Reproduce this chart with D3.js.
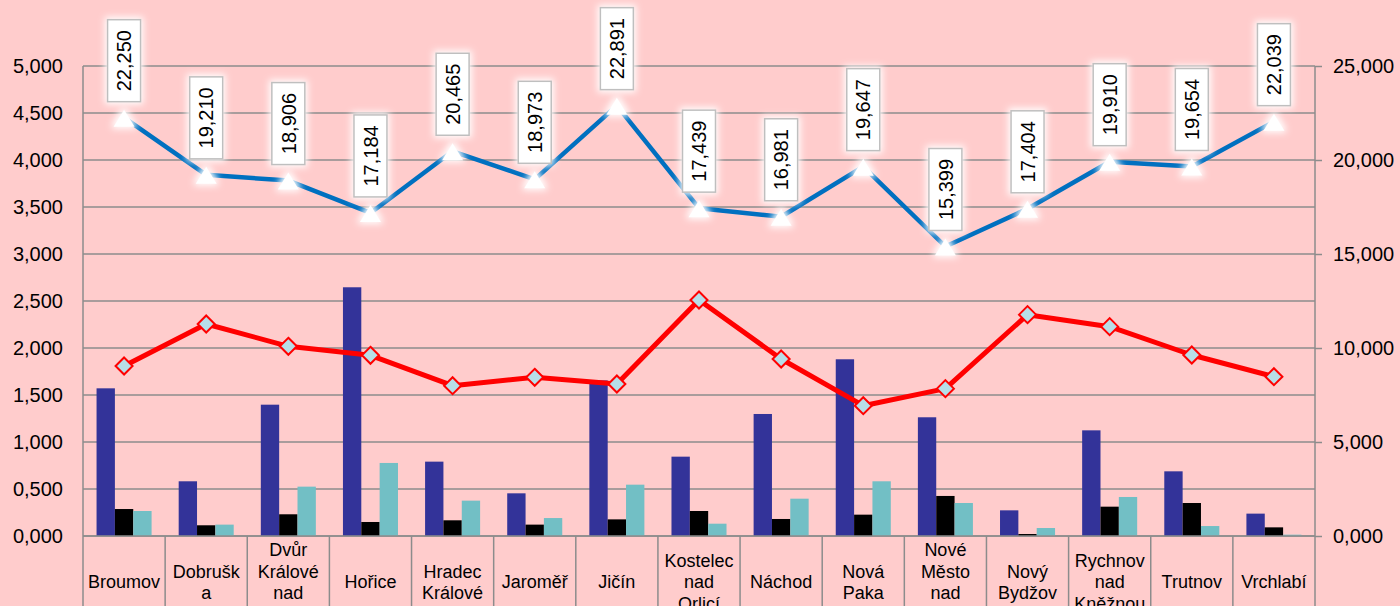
<!DOCTYPE html>
<html>
<head>
<meta charset="utf-8">
<script src="https://cdn.jsdelivr.net/npm/d3@7"></script>
<style>
  html, body { margin: 0; padding: 0; background: #FFCCCC; }
  svg { display: block; font-family: "Liberation Sans", Arial, sans-serif; }
</style>
</head>
<body>
<div id="chart"></div>
<script>
var svgWidth = 1400;
var svgHeight = 606;

var margin = { top: 66, right: 85, bottom: 70, left: 83 };
var width = svgWidth - margin.left - margin.right;
var height = svgHeight - margin.top - margin.bottom;

// data
var categories = ["Broumov", "Dobruška", "Dvůr Králové nad Labem", "Hořice", "Hradec Králové",
  "Jaroměř", "Jičín", "Kostelec nad Orlicí", "Náchod", "Nová Paka",
  "Nové Město nad Metují", "Nový Bydžov", "Rychnov nad Kněžnou", "Trutnov", "Vrchlabí"];
var categoryLines = [["Broumov"], ["Dobrušk", "a"], ["Dvůr", "Králové", "nad", "Labem"], ["Hořice"],
  ["Hradec", "Králové"], ["Jaroměř"], ["Jičín"], ["Kostelec", "nad", "Orlicí"], ["Náchod"],
  ["Nová", "Paka"], ["Nové", "Město", "nad", "Metují"], ["Nový", "Bydžov"],
  ["Rychnov", "nad", "Kněžnou"], ["Trutnov"], ["Vrchlabí"]];

var barBlue = [1.571, 0.582, 1.397, 2.646, 0.791, 0.454, 1.655, 0.844, 1.298, 1.880, 1.263, 0.273, 1.124, 0.688, 0.238];
var barBlack = [0.287, 0.114, 0.231, 0.149, 0.167, 0.121, 0.177, 0.266, 0.181, 0.227, 0.426, 0.021, 0.312, 0.351, 0.092];
var barTeal = [0.266, 0.121, 0.525, 0.777, 0.376, 0.191, 0.546, 0.131, 0.397, 0.582, 0.351, 0.085, 0.415, 0.106, 0.014];

var redLine = [9043, 11277, 10090, 9610, 7995, 8440, 8085, 12553, 9415, 6931, 7837, 11773, 11135, 9628, 8475];
var blueLine = [22250, 19210, 18906, 17184, 20465, 18973, 22891, 17439, 16981, 19647, 15399, 17404, 19910, 19654, 22039];

var leftTicks = [0, 0.5, 1, 1.5, 2, 2.5, 3, 3.5, 4, 4.5, 5];
var leftTickLabels = ["0,000", "0,500", "1,000", "1,500", "2,000", "2,500", "3,000", "3,500", "4,000", "4,500", "5,000"];
var rightTicks = [0, 5000, 10000, 15000, 20000, 25000];
var rightTickLabels = ["0,000", "5,000", "10,000", "15,000", "20,000", "25,000"];

var barColors = ["#333399", "#000000", "#72BFC5"];
var gridColor = "#8C8C8C";

var svg = d3.select("#chart")
    .append("svg")
    .attr("width", svgWidth)
    .attr("height", svgHeight);

var defs = svg.append("defs");
var glow = defs.append("filter")
    .attr("id", "glow")
    .attr("x", "-60%").attr("y", "-60%")
    .attr("width", "220%").attr("height", "220%");
glow.append("feMorphology").attr("in", "SourceAlpha").attr("operator", "dilate").attr("radius", 2).attr("result", "dil");
glow.append("feFlood").attr("flood-color", "#ffffff").attr("result", "white");
glow.append("feComposite").attr("in", "white").attr("in2", "dil").attr("operator", "in").attr("result", "wd");
glow.append("feGaussianBlur").attr("in", "wd").attr("stdDeviation", 3.5).attr("result", "blur");
var merge = glow.append("feMerge");
merge.append("feMergeNode").attr("in", "blur");
merge.append("feMergeNode").attr("in", "SourceGraphic");

var chartGroup = svg.append("g")
    .attr("transform", `translate(${margin.left}, ${margin.top})`);

var xScale = d3.scaleBand()
    .domain(categories)
    .range([0, width]);

var yLeft = d3.scaleLinear().domain([0, 5]).range([height, 0]);
var yRight = d3.scaleLinear().domain([0, 25000]).range([height, 0]);

var groupWidth = xScale.bandwidth() * 0.67;
var xSub = d3.scaleBand()
    .domain([0, 1, 2])
    .range([0, groupWidth]);

// gridlines
chartGroup.append("g")
    .selectAll("line")
    .data(leftTicks)
    .enter()
    .append("line")
    .attr("x1", 0)
    .attr("x2", width)
    .attr("y1", d => yLeft(d))
    .attr("y2", d => yLeft(d))
    .attr("stroke", gridColor)
    .attr("stroke-width", 1.5);

// bars
var barSeries = [barBlue, barBlack, barTeal];
barSeries.forEach(function(series, si) {
    chartGroup.append("g")
        .selectAll("rect")
        .data(series)
        .enter()
        .append("rect")
        .attr("x", (d, i) => xScale(categories[i]) + (xScale.bandwidth() - groupWidth) / 2 + xSub(si))
        .attr("width", xSub.bandwidth())
        .attr("y", d => yLeft(d))
        .attr("height", d => height - yLeft(d))
        .attr("fill", barColors[si]);
});

// axis lines
chartGroup.append("line")
    .attr("x1", 0).attr("x2", width)
    .attr("y1", height).attr("y2", height)
    .attr("stroke", gridColor).attr("stroke-width", 1.5);
chartGroup.append("line")
    .attr("x1", 0).attr("x2", 0)
    .attr("y1", 0).attr("y2", svgHeight - margin.top)
    .attr("stroke", gridColor).attr("stroke-width", 1.5);
chartGroup.append("line")
    .attr("x1", width).attr("x2", width)
    .attr("y1", 0).attr("y2", svgHeight - margin.top)
    .attr("stroke", gridColor).attr("stroke-width", 1.5);

// category separators
chartGroup.append("g")
    .selectAll("line")
    .data(categories.slice(1))
    .enter()
    .append("line")
    .attr("x1", d => xScale(d))
    .attr("x2", d => xScale(d))
    .attr("y1", height)
    .attr("y2", svgHeight - margin.top)
    .attr("stroke", gridColor)
    .attr("stroke-width", 1.5);

// left axis
var leftAxis = d3.axisLeft(yLeft)
    .tickValues(leftTicks)
    .tickSize(0)
    .tickPadding(20)
    .tickFormat((d, i) => leftTickLabels[i]);
var gLeft = chartGroup.append("g").call(leftAxis);
gLeft.select(".domain").remove();
gLeft.selectAll("text")
    .attr("font-size", "20px")
    .attr("font-family", "Liberation Sans, Arial, sans-serif")
    .attr("fill", "#000");

// right axis
var rightAxis = d3.axisRight(yRight)
    .tickValues(rightTicks)
    .tickSize(7)
    .tickPadding(11)
    .tickFormat((d, i) => rightTickLabels[i]);
var gRight = chartGroup.append("g")
    .attr("transform", `translate(${width}, 0)`)
    .call(rightAxis);
gRight.select(".domain").remove();
gRight.selectAll("line").attr("stroke", gridColor).attr("stroke-width", 1.5);
gRight.selectAll("text")
    .attr("font-size", "20px")
    .attr("font-family", "Liberation Sans, Arial, sans-serif")
    .attr("fill", "#000");

// category labels
var lineH = 21.5;
var labelCenter = 582 - margin.top;
var catLabels = chartGroup.append("g")
    .selectAll("text")
    .data(categories)
    .enter()
    .append("text")
    .attr("text-anchor", "middle")
    .attr("font-size", "18px")
    .attr("fill", "#000");
catLabels.each(function(d, i) {
    var lines = categoryLines[i];
    var t = d3.select(this);
    var cx = xScale(d) + xScale.bandwidth() / 2;
    lines.forEach(function(ln, li) {
        t.append("tspan")
            .attr("x", cx)
            .attr("y", labelCenter + (li - (lines.length - 1) / 2) * lineH)
            .attr("dy", "0.35em")
            .text(ln);
    });
});

var cxOf = i => xScale(categories[i]) + xScale.bandwidth() / 2;

// red line
var redGen = d3.line()
    .x((d, i) => cxOf(i))
    .y(d => yRight(d));
chartGroup.append("path")
    .datum(redLine)
    .attr("d", redGen)
    .attr("fill", "none")
    .attr("stroke", "#FF0000")
    .attr("stroke-width", 5)
    .attr("stroke-linejoin", "round");

chartGroup.append("g")
    .selectAll("path")
    .data(redLine)
    .enter()
    .append("path")
    .attr("d", (d, i) => {
        var x = cxOf(i), y = yRight(d), r = 8.5;
        return `M${x},${y - r}L${x + r},${y}L${x},${y + r}L${x - r},${y}Z`;
    })
    .attr("fill", "#B7DEE8")
    .attr("stroke", "#FF0000")
    .attr("stroke-width", 2);

// blue line
var blueGen = d3.line()
    .x((d, i) => cxOf(i))
    .y(d => yRight(d));
chartGroup.append("path")
    .datum(blueLine)
    .attr("d", blueGen)
    .attr("fill", "none")
    .attr("stroke", "#0070C0")
    .attr("stroke-width", 4.5)
    .attr("stroke-linejoin", "round");

chartGroup.append("g")
    .selectAll("path")
    .data(blueLine)
    .enter()
    .append("path")
    .attr("d", (d, i) => {
        var x = cxOf(i), y = yRight(d);
        return `M${x},${y - 8}L${x + 10.5},${y + 9}L${x - 10.5},${y + 9}Z`;
    })
    .attr("fill", "#FFFFFF")
    .attr("filter", "url(#glow)");

// data labels
var fmt = d3.format(",");
var labels = chartGroup.append("g")
    .selectAll("g")
    .data(blueLine)
    .enter()
    .append("g")
    .attr("transform", (d, i) => `translate(${cxOf(i)}, ${yRight(d) - 16})`);

labels.append("rect")
    .attr("x", -16.5)
    .attr("y", -82)
    .attr("width", 33)
    .attr("height", 82)
    .attr("fill", "#FFFFFF")
    .attr("stroke", "#BFBFBF")
    .attr("stroke-width", 1.5)
    .attr("filter", "url(#glow)");

labels.append("text")
    .attr("transform", "translate(0, -41) rotate(-90)")
    .attr("text-anchor", "middle")
    .attr("dy", "0.36em")
    .attr("font-size", "20px")
    .attr("fill", "#000")
    .text(d => fmt(d));
</script>
</body>
</html>
